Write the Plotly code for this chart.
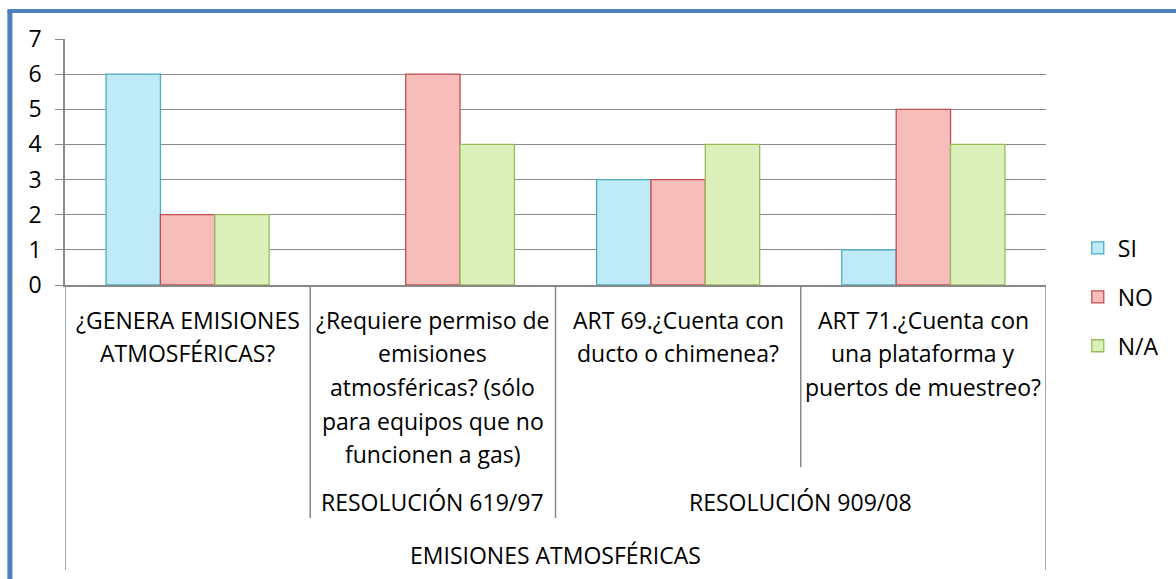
import plotly.graph_objects as go

# ---------------- data ----------------
categories = [
    "¿GENERA EMISIONES ATMOSFÉRICAS?",
    "¿Requiere permiso de emisiones atmosféricas? (sólo para equipos que no funcionen a gas)",
    "ART 69.¿Cuenta con ducto o chimenea?",
    "ART 71.¿Cuenta con una plataforma y puertos de muestreo?",
]
category_lines = [
    ["¿GENERA EMISIONES", "ATMOSFÉRICAS?"],
    ["¿Requiere permiso de", "emisiones", "atmosféricas? (sólo", "para equipos que no", "funcionen a gas)"],
    ["ART 69.¿Cuenta con", "ducto o chimenea?"],
    ["ART 71.¿Cuenta con", "una plataforma y", "puertos de muestreo?"],
]
level2_labels = ["", "RESOLUCIÓN 619/97", "RESOLUCIÓN 909/08"]
level2_members = [[0], [1], [2, 3]]
level3_label = "EMISIONES ATMOSFÉRICAS"

series_names = ["SI", "NO", "N/A"]
si_values = [6, 0, 3, 1]
no_values = [2, 6, 3, 5]
na_values = [2, 4, 4, 4]
y_ticks = [0, 1, 2, 3, 4, 5, 6, 7]

# ---------------- style ----------------
W, H = 1176, 579
ML, MR, MT, MB = 65, 123, 39, 294
PW, PH = W - ML - MR, H - MT - MB
FONT = "Open Sans, Lato, sans-serif"
FS = 23
GRAY = "#898989"
fills = ["#bfeaf8", "#f7bdbb", "#dcf0bb"]
edges = ["#4bacc6", "#c0504d", "#9bbb59"]


def py(px_y):
    """pixel row -> paper y"""
    return (MT + PH - px_y) / PH


def px(px_x):
    """pixel column -> paper x"""
    return (px_x - ML) / PW


x_idx = list(range(len(categories)))
values = [si_values, no_values, na_values]

fig = go.Figure()
for name, vals, fc, ec in zip(series_names, values, fills, edges):
    fig.add_trace(go.Bar(
        x=x_idx, y=vals, name=name, legendgroup=name,
        marker=dict(color=fc, line=dict(color=ec, width=[1.3 if v else 0 for v in vals])),
        hovertext=categories,
    ))

annotations = []
# level 1 labels (top aligned, one line per annotation)
for i, lines in enumerate(category_lines):
    for j, line in enumerate(lines):
        annotations.append(dict(
            x=i, xref="x", y=py(320 + 33.5 * j), yref="paper",
            text=line, showarrow=False, xanchor="center", yanchor="middle",
            font=dict(family=FONT, size=FS, color="black"),
        ))
# level 2 labels
for lab, mem in zip(level2_labels, level2_members):
    if lab:
        annotations.append(dict(
            x=sum(mem) / len(mem), xref="x", y=py(502), yref="paper",
            text=lab, showarrow=False, xanchor="center", yanchor="middle",
            font=dict(family=FONT, size=FS, color="black"),
        ))
# level 3 label
annotations.append(dict(
    x=(len(categories) - 1) / 2, xref="x", y=py(555), yref="paper",
    text=level3_label, showarrow=False, xanchor="center", yanchor="middle",
    font=dict(family=FONT, size=FS, color="black"),
))

shapes = []
# category dividers of the multi-level axis
n = len(categories)
level2_bounds = set()
for mem in level2_members:
    level2_bounds.add(min(mem) - 0.5)
    level2_bounds.add(max(mem) + 0.5)
for k in range(n + 1):
    xb = k - 0.5
    if k == 0 or k == n:
        yb = 570
    elif xb in level2_bounds:
        yb = 518
    else:
        yb = 467
    shapes.append(dict(type="line", xref="x", yref="paper", x0=xb, x1=xb,
                       y0=0, y1=py(yb), line=dict(color=GRAY, width=1.5)))
# blue outer frame (left and top edges)
shapes.append(dict(type="line", xref="paper", yref="paper", x0=px(9.5), x1=px(9.5),
                   y0=py(11), y1=py(600), line=dict(color="#4f81bd", width=5)))
shapes.append(dict(type="line", xref="paper", yref="paper", x0=px(7), x1=px(1200),
                   y0=py(11), y1=py(11), line=dict(color="#4f81bd", width=4)))

fig.update_layout(
    width=W, height=H, autosize=False,
    margin=dict(l=ML, r=MR, t=MT, b=MB, pad=0),
    paper_bgcolor="white", plot_bgcolor="white",
    barmode="group", bargap=0.335, bargroupgap=0,
    font=dict(family=FONT, size=FS, color="black"),
    showlegend=True,
    legend=dict(x=px(1085), xanchor="left", y=py(297), yanchor="middle",
                font=dict(family=FONT, size=FS, color="black"),
                traceorder="grouped", tracegroupgap=16,
                bgcolor="rgba(0,0,0,0)"),
    annotations=annotations, shapes=shapes,
    xaxis=dict(range=[-0.5, n - 0.5], showgrid=False, zeroline=False,
               showticklabels=False, ticks="", showline=True,
               linecolor=GRAY, linewidth=1.5, fixedrange=True),
    yaxis=dict(range=[0, 7], tickvals=y_ticks, showgrid=True, gridcolor=GRAY,
               gridwidth=1.3, zeroline=False, showline=True, linecolor=GRAY,
               linewidth=1.5, ticks="outside", ticklen=8, tickcolor=GRAY,
               tickwidth=1.3, ticklabelstandoff=9,
               tickfont=dict(family=FONT, size=FS, color="black"), fixedrange=True),
)

fig.write_html(
    "out.html",
    config={"displayModeBar": False},
    post_script="document.body.style.margin='0px';document.body.style.overflow='hidden';",
)
